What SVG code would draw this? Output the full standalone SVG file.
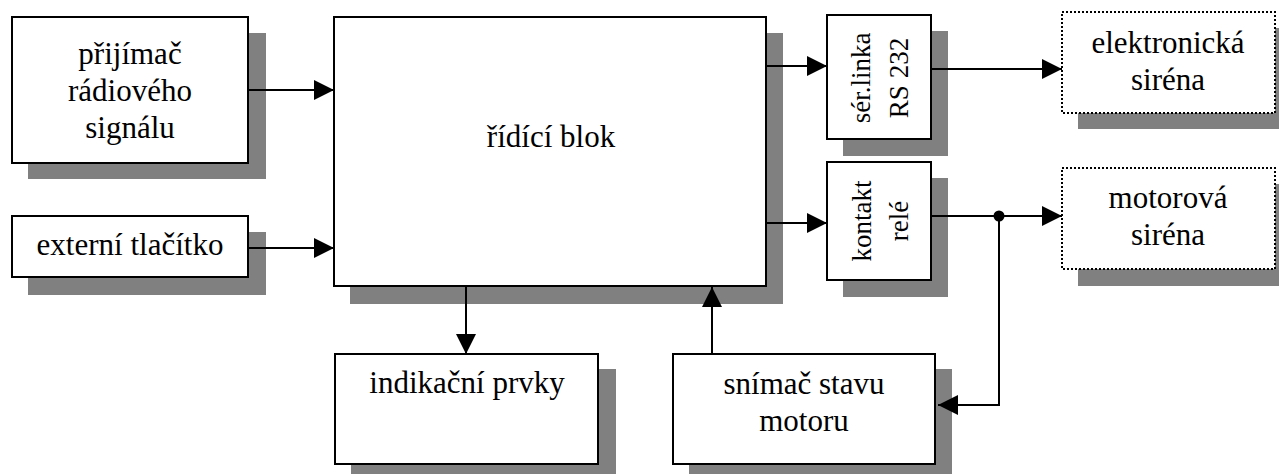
<svg xmlns="http://www.w3.org/2000/svg" width="1279" height="474" viewBox="0 0 1279 474">
<defs>
<marker id="ah" markerWidth="20" markerHeight="20" viewBox="0 0 20 20" refX="20" refY="10" orient="auto" markerUnits="userSpaceOnUse">
<path d="M0,0 L20,10 L0,20 Z" fill="#000"/>
</marker>
</defs>
<rect width="1279" height="474" fill="#fff"/>

<g id="prijimac">
<rect x="28" y="33" width="238" height="146" fill="#808080"/>
<rect x="12" y="17" width="236" height="146" fill="#fff" stroke="#000" stroke-width="2"/>
<text x="130" y="64" style="font-family:'Liberation Serif',serif !important;font-size:31px" text-anchor="middle">přijímač</text>
<text x="130" y="101" style="font-family:'Liberation Serif',serif !important;font-size:31px" text-anchor="middle">rádiového</text>
<text x="130" y="138" style="font-family:'Liberation Serif',serif !important;font-size:31px" text-anchor="middle">signálu</text>
</g>

<g id="externi">
<rect x="28" y="232" width="238" height="63" fill="#808080"/>
<rect x="12" y="216" width="236" height="61" fill="#fff" stroke="#000" stroke-width="2"/>
<text x="130" y="255" style="font-family:'Liberation Serif',serif !important;font-size:31px" text-anchor="middle">externí tlačítko</text>
</g>

<g id="ridici">
<rect x="350" y="33" width="433" height="271" fill="#808080"/>
<rect x="334" y="17" width="432" height="269" fill="#fff" stroke="#000" stroke-width="2"/>
<text x="551" y="147" style="font-family:'Liberation Serif',serif !important;font-size:31px" text-anchor="middle">řídící blok</text>
</g>

<g id="serlinka">
<rect x="843" y="31" width="105" height="125" fill="#808080"/>
<rect x="827" y="15" width="104" height="124" fill="#fff" stroke="#000" stroke-width="2"/>
<text transform="translate(870,78) rotate(-90)" style="font-family:'Liberation Serif',serif !important;font-size:27px" text-anchor="middle">sér.linka</text>
<text transform="translate(908,78) rotate(-90)" style="font-family:'Liberation Serif',serif !important;font-size:27px" text-anchor="middle">RS 232</text>
</g>

<g id="kontakt">
<rect x="843" y="178" width="105" height="119" fill="#808080"/>
<rect x="827" y="162" width="104" height="118" fill="#fff" stroke="#000" stroke-width="2"/>
<text transform="translate(871,221) rotate(-90)" style="font-family:'Liberation Serif',serif !important;font-size:27px" text-anchor="middle">kontakt</text>
<text transform="translate(908,221) rotate(-90)" style="font-family:'Liberation Serif',serif !important;font-size:27px" text-anchor="middle">relé</text>
</g>

<g id="elektronicka">
<rect x="1078" y="28" width="220" height="101" fill="#808080"/>
<rect x="1062" y="12" width="213" height="101" fill="#fff" stroke="#000" stroke-width="2" stroke-dasharray="2 2"/>
<text x="1168" y="53" style="font-family:'Liberation Serif',serif !important;font-size:31px" text-anchor="middle">elektronická</text>
<text x="1168" y="90" style="font-family:'Liberation Serif',serif !important;font-size:31px" text-anchor="middle">siréna</text>
</g>

<g id="motorova">
<rect x="1078" y="184" width="220" height="102" fill="#808080"/>
<rect x="1062" y="168" width="213" height="101" fill="#fff" stroke="#000" stroke-width="2" stroke-dasharray="2 2"/>
<text x="1168" y="208" style="font-family:'Liberation Serif',serif !important;font-size:31px" text-anchor="middle">motorová</text>
<text x="1168" y="245" style="font-family:'Liberation Serif',serif !important;font-size:31px" text-anchor="middle">siréna</text>
</g>

<g id="indikacni">
<rect x="351" y="369" width="265" height="115" fill="#808080"/>
<rect x="335" y="354" width="263" height="110" fill="#fff" stroke="#000" stroke-width="2"/>
<text x="467" y="393" style="font-family:'Liberation Serif',serif !important;font-size:31px" text-anchor="middle">indikační prvky</text>
</g>

<g id="snimac">
<rect x="689" y="369" width="263" height="115" fill="#808080"/>
<rect x="673" y="354" width="262" height="110" fill="#fff" stroke="#000" stroke-width="2"/>
<text x="804" y="394" style="font-family:'Liberation Serif',serif !important;font-size:31px" text-anchor="middle">snímač stavu</text>
<text x="804" y="431" style="font-family:'Liberation Serif',serif !important;font-size:31px" text-anchor="middle">motoru</text>
</g>

<g id="connectors" fill="none" stroke="#000" stroke-width="2">
<path d="M248,90 H334" marker-end="url(#ah)"/>
<path d="M248,248 H334" marker-end="url(#ah)"/>
<path d="M766,66 H827" marker-end="url(#ah)"/>
<path d="M931,69 H1062" marker-end="url(#ah)"/>
<path d="M766,223 H827" marker-end="url(#ah)"/>
<path d="M931,216 H1062" marker-end="url(#ah)"/>
<path d="M999,216 V405 H938" marker-end="url(#ah)"/>
<circle cx="999" cy="216" r="5.5" fill="#000" stroke="none"/>
<path d="M466,286 V354" marker-end="url(#ah)"/>
<path d="M712,354 V287" marker-end="url(#ah)"/>
</g>
</svg>
